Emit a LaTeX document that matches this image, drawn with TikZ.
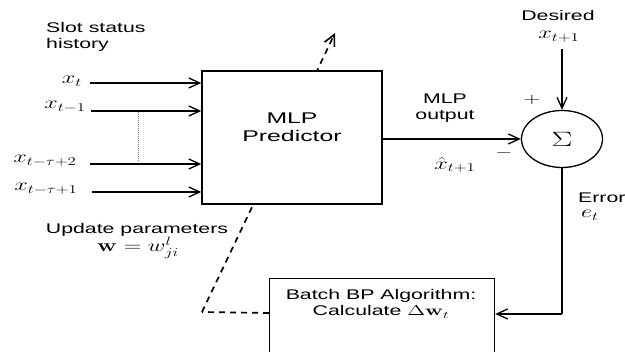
\documentclass[tikz,border=0pt]{standalone}
\usepackage[no-math]{fontspec}
\setmainfont{Liberation Sans}
\usepackage{graphicx}
\usetikzlibrary{arrows.meta,shapes.geometric}
\newcommand{\sx}[1]{\scalebox{1.52}[1]{#1}}
\newcommand{\mx}[1]{\scalebox{1.4}[1]{#1}}
\tikzset{
  lbl/.style={inner sep=0pt, font=\fontsize{14}{16}\selectfont},
  bigl/.style={inner sep=0pt, font=\fontsize{15.5}{17}\selectfont},
  mth/.style={inner sep=0pt, font=\fontsize{16.5}{18}\selectfont},
  arr/.style={line width=1.3pt, -{Straight Barb[length=11pt,width=10pt,line width=1.3pt]}},
  plain/.style={line width=1.3pt},
  dsh/.style={line width=1.7pt, dash pattern=on 6pt off 5pt},
  boxst/.style={draw, line width=1.4pt, fill=white, inner sep=0pt}
}
\begin{document}
\begin{tikzpicture}[x=1pt,y=-1pt]
\useasboundingbox (0,0) rectangle (625,352);
\clip (0,0) rectangle (625,352);
% dashed feedback path (behind the box)
\node[boxst, line width=1.2pt, minimum width=225pt, minimum height=110pt, anchor=north west] (bp) at (269,278) {};
\coordinate (corner) at (202,312);
\coordinate (tip) at (335,33);
\draw[dsh] (bp.west |- 0,313) -- (corner);
\draw[dsh, -{Straight Barb[length=11pt,width=11pt,line width=1.6pt]}] (corner) -- (tip);
% MLP box
\node[boxst, minimum width=180pt, minimum height=133pt] (mlp) at (292,137.5) {};
\node[bigl, align=center] (mlptxt) at (292,127) {\scalebox{1.6}[1]{MLP}\\[1pt]\scalebox{1.6}[1]{Predictor}};
% texts
\node[lbl, align=left, anchor=west] (slot) at (46,37) {\sx{Slot status}\\\sx{history}};
\node[mth] (x1) at (72,81) {\mx{$x_t$}};
\node[mth] (x2) at (65,107) {\mx{$x_{t-1}$}};
\node[mth] (x3) at (45,161) {\mx{$x_{t-\tau+2}$}};
\node[mth] (x4) at (46,189) {\mx{$x_{t-\tau+1}$}};
\coordinate (s1) at (90,83);
\coordinate (s2) at (91,111);
\coordinate (s3) at (90,164);
\coordinate (s4) at (92,192);
\draw[arr] (s1) -- (s1 -| mlp.west);
\draw[arr] (s2) -- (s2 -| mlp.west);
\draw[arr] (s3) -- (s3 -| mlp.west);
\draw[arr] (s4) -- (s4 -| mlp.west);
\coordinate (d1) at (138,112);
\coordinate (d2) at (138,161);
\draw[gray, line width=1pt, densely dotted] (d1) -- (d2);
\node[lbl] (upd) at (137,230) {\sx{Update parameters}};
\node[mth] (weq) at (138,248) {\mx{$\mathbf{w}=w^{l}_{ji}$}};
% summation
\node[draw, ellipse, line width=1.3pt, minimum width=81pt, minimum height=57pt, inner sep=0pt] (sum) at (562,139) {\scalebox{1.5}[1]{\fontsize{20.5}{21}\selectfont$\Sigma$}};
\node[lbl] (des) at (558,16) {\sx{Desired}};
\node[mth] (xt1) at (559,37) {\mx{$x_{t+1}$}};
\coordinate (dtop) at (562,49);
\draw[arr] (dtop) -- (sum.north);
\node[lbl] (mlpout) at (445,108) [align=center] {\sx{MLP}\\\sx{output}};
\node[mth] (xhat) at (455,165) {\mx{$\hat{x}_{t+1}$}};
\node[lbl] (plus) at (532,100) {\sx{$+$}};
\node[lbl] (minus) at (504,153) {\sx{$-$}};
\draw[arr] (mlp.east |- sum.west) -- (sum.west);
% error path
\node[lbl, anchor=west] (err) at (578,198) {\sx{Error}};
\node[mth] (et) at (590,215) {\mx{$e_t$}};
\coordinate (ec) at (562,314);
\draw[plain] (sum.south) -- (ec);
\draw[arr] (ec) -- (ec -| bp.east);
\node[lbl] (bptxt) at (381,304) [align=center] {\sx{Batch BP Algorithm:}\\\sx{Calculate $\Delta\mathbf{w}_t$}};
\end{tikzpicture}
\end{document}
